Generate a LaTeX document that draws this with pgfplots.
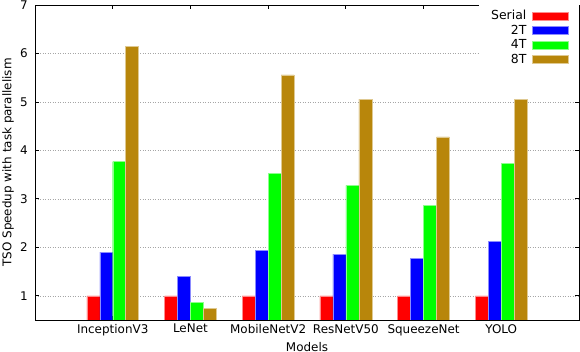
\documentclass[border=0pt]{standalone}
\usepackage{fontspec}
\setmainfont{DejaVu Sans}
\usepackage{pgfplots}
\pgfplotsset{compat=1.18}
\definecolor{cSerial}{RGB}{255,0,0}
\definecolor{cTwo}{RGB}{0,0,255}
\definecolor{cFour}{RGB}{0,255,0}
\definecolor{cEight}{RGB}{184,134,11}

\begin{document}
\fontsize{12}{14}\selectfont
\begin{tikzpicture}
\begin{axis}[
  at={(0,0)}, anchor=south west,
  scale only axis, width=544bp, height=315bp,
  xmin=-1, xmax=6, ymin=0.5, ymax=7,
  xtick={0,...,5},
  xticklabels={InceptionV3,LeNet,MobileNetV2,ResNetV50,SqueezeNet,YOLO},
  ytick={1,...,7},
  ybar=0pt, bar width=0.1667,
  axis line style={line width=1pt},
  tick align=inside, major tick length=4bp,
  tick style={black, line width=0.8pt},
  ymajorgrids,
  grid style={gray!70, dash pattern=on 1bp off 1.5bp, line width=0.5pt},
  /pgf/number format/assume math mode=true,
  ticklabel style={font=\fontsize{12}{14}\selectfont},
  yticklabel style={xshift=-3bp},
  xlabel={Models}, ylabel={TSO Speedup with task parallelism},
  every axis x label/.style={at={(axis description cs:0.5,0)}, anchor=north, yshift=-18bp},
  every axis y label/.style={at={(axis description cs:-0.0496,0.5)}, rotate=90, anchor=center},
  label style={font=\fontsize{12}{14}\selectfont},
  legend style={at={(rel axis cs:1,1)}, anchor=north east, draw=none, fill=white,
    font=\fontsize{12.5}{14}\selectfont, inner xsep=10bp, inner ysep=3bp,
    row sep=-0.4bp, column sep=4bp},
  legend cell align=right,
  legend plot pos=right,
  legend image code/.code={\filldraw[#1] (0bp,-4bp) rectangle (36bp,4bp);},
]
\addplot[fill=cSerial, draw=cSerial!45!white, line width=0.4bp] coordinates {(0,1) (1,1) (2,1) (3,1) (4,1) (5,1)};
\addplot[fill=cTwo, draw=cTwo!45!white, line width=0.4bp] coordinates {(0,1.90) (1,1.40) (2,1.94) (3,1.86) (4,1.77) (5,2.13)};
\addplot[fill=cFour, draw=cFour!45!white, line width=0.4bp] coordinates {(0,3.77) (1,0.86) (2,3.53) (3,3.28) (4,2.86) (5,3.73)};
\addplot[fill=cEight, draw=cEight!45!white, line width=0.4bp] coordinates {(0,6.15) (1,0.74) (2,5.56) (3,5.06) (4,4.28) (5,5.05)};
\legend{Serial,2T,4T,8T}
\end{axis}
\pgfresetboundingbox
\useasboundingbox (-35bp,-32bp) rectangle (545bp,320bp);
\end{tikzpicture}
\end{document}
